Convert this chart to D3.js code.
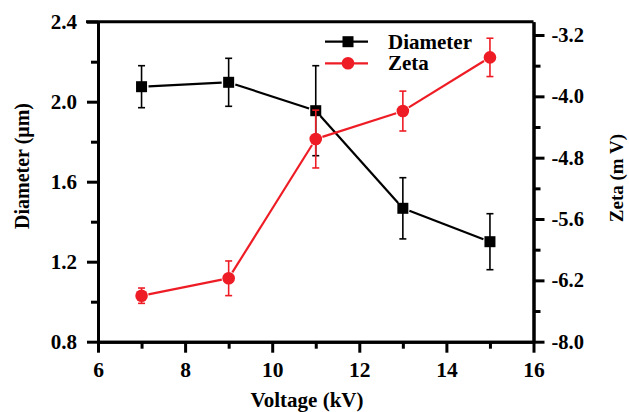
<!DOCTYPE html>
<html><head><meta charset="utf-8">
<script src="https://cdn.jsdelivr.net/npm/d3@7"></script>
<style>
html,body{margin:0;padding:0;background:#fff;}
svg{display:block;}
text{font-family:"Liberation Serif","Times New Roman",serif;font-weight:bold;fill:#000;}
</style></head>
<body>
<svg id="chart" width="629" height="412"></svg>
<script>
// ---- data ----
const voltage = [7, 9, 11, 13, 15];
const diameter = [2.075, 2.097, 1.955, 1.467, 1.30];
const diameterErr = [0.105, 0.12, 0.225, 0.153, 0.14];
const zeta = [-6.60, -6.373, -4.557, -4.192, -3.492];
const zetaErr = [0.10, 0.226, 0.377, 0.26, 0.25];

const xTicks = [6, 8, 10, 12, 14, 16];
const xMinor = [7, 9, 11, 13, 15];
const yLeftTicks = [0.8, 1.2, 1.6, 2.0, 2.4];
const yLeftMinor = [1.0, 1.4, 1.8, 2.2];
const yRightTicks = [-7.2, -6.4, -5.6, -4.8, -4.0, -3.2];
const yRightLabels = ["-8.0", "-6.2", "-5.6", "-4.8", "-4.0", "-3.2"];
const yRightMinor = [-6.8, -6.0, -5.2, -4.4, -3.6];

const seriesNames = ["Diameter", "Zeta"];
const colors = ["#000000", "#ee1c25"];

// ---- layout ----
const L = 98, R = 533.5, T = 21.7, B = 341.7;
const svg = d3.select("#chart");

const x = d3.scaleLinear().domain([6, 16]).range([L, R]);
const yL = d3.scaleLinear().domain([0.8, 2.4]).range([B, T]);
const yRtmp = d3.scaleLinear().domain([-7.2, -3.2]).range([B, 35]);
const yR = d3.scaleLinear().domain([-7.2, yRtmp.invert(T)]).range([B, T]);

// ---- axes ----
const axisW = 3;
function styleAxis(g, fs) {
  g.selectAll("path.domain").attr("stroke", "#000").attr("stroke-width", axisW);
  g.selectAll(".tick line").attr("stroke", "#000").attr("stroke-width", axisW);
  g.selectAll("text").attr("font-size", fs || "21px");
}

// bottom
const gx = svg.append("g").attr("transform", `translate(0,${B})`)
  .call(d3.axisBottom(x).tickValues(xTicks).tickFormat(d3.format("d")).tickSize(11).tickSizeOuter(0).tickPadding(9));
styleAxis(gx, "21.5px");
const gxm = svg.append("g").attr("transform", `translate(0,${B})`)
  .call(d3.axisBottom(x).tickValues(xMinor).tickFormat("").tickSize(7).tickSizeOuter(0));
styleAxis(gxm);

// top (frame)
svg.append("line").attr("x1", L - 12).attr("x2", R).attr("y1", T).attr("y2", T)
  .attr("stroke", "#000").attr("stroke-width", axisW);

// left
const gy = svg.append("g").attr("transform", `translate(${L},0)`)
  .call(d3.axisLeft(yL).tickValues(yLeftTicks).tickFormat(d3.format(".1f")).tickSize(11).tickSizeOuter(0).tickPadding(10));
styleAxis(gy, "21px");
const gym = svg.append("g").attr("transform", `translate(${L},0)`)
  .call(d3.axisLeft(yL).tickValues(yLeftMinor).tickFormat("").tickSize(7).tickSizeOuter(0));
styleAxis(gym);

// right
const gr = svg.append("g").attr("transform", `translate(${R},0)`)
  .call(d3.axisRight(yR).tickValues(yRightTicks).tickFormat((d, i) => yRightLabels[i]).tickSize(11).tickSizeOuter(0).tickPadding(7));
styleAxis(gr, "20.5px");
const grm = svg.append("g").attr("transform", `translate(${R},0)`)
  .call(d3.axisRight(yR).tickValues(yRightMinor).tickFormat("").tickSize(7).tickSizeOuter(0));
styleAxis(grm);

// ---- titles ----
svg.append("text").attr("transform", `translate(22,166) rotate(-90)`)
  .attr("text-anchor", "middle").attr("dy", "0.35em").attr("font-size", "20px").text("Diameter (μm)");
svg.append("text").attr("transform", `translate(623,178) rotate(-90)`)
  .attr("text-anchor", "middle").attr("font-size", "19px").text("Zeta (m V)");
svg.append("text").attr("x", 307).attr("y", 407)
  .attr("text-anchor", "middle").attr("font-size", "21px").text("Voltage (kV)");

// ---- series ----
function drawSeries(vals, errs, yS, color, shape) {
  const g = svg.append("g");
  const pts = voltage.map((v, i) => [x(v), yS(vals[i])]);
  const gap = 7;
  for (let i = 0; i < pts.length - 1; i++) {
    const [x1, y1] = pts[i], [x2, y2] = pts[i + 1];
    const len = Math.hypot(x2 - x1, y2 - y1);
    const ux = (x2 - x1) / len, uy = (y2 - y1) / len;
    g.append("line")
      .attr("x1", x1 + ux * gap).attr("y1", y1 + uy * gap)
      .attr("x2", x2 - ux * gap).attr("y2", y2 - uy * gap)
      .attr("stroke", color).attr("stroke-width", 2.2);
  }
  voltage.forEach((v, i) => {
    const cx = x(v), top = yS(vals[i] + errs[i]), bot = yS(vals[i] - errs[i]);
    g.append("line").attr("x1", cx).attr("x2", cx).attr("y1", top).attr("y2", bot)
      .attr("stroke", color).attr("stroke-width", 1.6);
    [top, bot].forEach(yy => g.append("line").attr("x1", cx - 3.5).attr("x2", cx + 3.5)
      .attr("y1", yy).attr("y2", yy).attr("stroke", color).attr("stroke-width", 1.6));
  });
  pts.forEach(([px, py]) => {
    if (shape === "square") {
      g.append("rect").attr("x", px - 5.5).attr("y", py - 5.5).attr("width", 11).attr("height", 11).attr("fill", color);
    } else {
      g.append("circle").attr("cx", px).attr("cy", py).attr("r", 6.3).attr("fill", color);
    }
  });
}
drawSeries(diameter, diameterErr, yL, colors[0], "square");
drawSeries(zeta, zetaErr, yR, colors[1], "circle");

// ---- legend ----
const leg = svg.append("g");
[["square", 41.7], ["circle", 63.3]].forEach(([shape, ly], i) => {
  leg.append("line").attr("x1", 325).attr("x2", 368).attr("y1", ly).attr("y2", ly)
    .attr("stroke", colors[i]).attr("stroke-width", 2.2);
  if (shape === "square") {
    leg.append("rect").attr("x", 348 - 5.5).attr("y", ly - 5.5).attr("width", 11).attr("height", 11).attr("fill", colors[i]);
  } else {
    leg.append("circle").attr("cx", 348).attr("cy", ly).attr("r", 6.3).attr("fill", colors[i]);
  }
  leg.append("text").attr("x", 388).attr("y", ly).attr("dy", "0.33em").attr("font-size", "21px").text(seriesNames[i]);
});
</script>
</body></html>
